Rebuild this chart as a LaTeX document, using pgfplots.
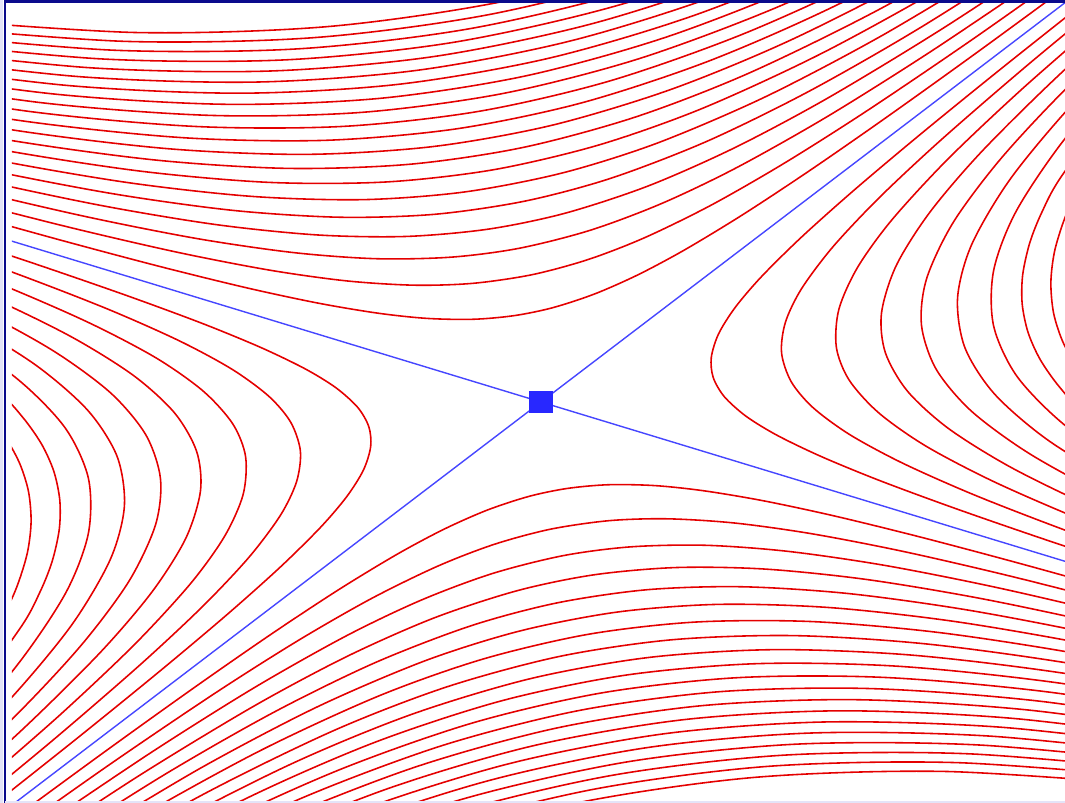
\documentclass[border=0pt]{standalone}
\usepackage{pgfplots}
\pgfplotsset{compat=1.18}
\definecolor{curvered}{RGB}{228,0,0}
\definecolor{sepblue}{RGB}{70,70,255}
\definecolor{sqblue}{RGB}{40,40,255}
\definecolor{framenavy}{RGB}{10,10,140}
\definecolor{lav}{RGB}{228,228,248}
\begin{document}
\begin{tikzpicture}
\path[use as bounding box] (-5.41,-4.01) rectangle (5.24,4.02);
\fill[lav] (-5.41,-4.01) rectangle (-5.375,4.02);
\begin{scope}
\clip (-5.29,-3.99) rectangle (5.24,4.0);
\begin{axis}[
  anchor=origin, at={(0,0)},
  disabledatascaling,
  x={(1cm,-0.304cm)}, y={(1cm,0.762cm)},
  xmin=-8.5, xmax=8.5, ymin=-6.5, ymax=6.5,
  hide axis, clip=false,
  every axis plot/.append style={line width=0.45pt},
]
% ---------- top region ----------
\addplot[curvered,smooth] coordinates {(-0.125,5.88) (-0.16,4.594) (-0.2,3.675) (-0.25,2.94) (-0.315,2.333) (-0.4,1.838) (-0.5,1.47) (-0.63,1.167) (-0.8,0.919) (-1,0.735) (-1.26,0.583) (-1.6,0.459) (-2,0.368) (-2.52,0.292) (-3.17,0.232) (-4,0.184) (-5.04,0.146) (-6.35,0.116) (-8,0.092)};
\addplot[curvered,smooth] coordinates {(-0.25,5.88) (-0.315,4.667) (-0.4,3.675) (-0.5,2.94) (-0.63,2.333) (-0.8,1.838) (-1,1.47) (-1.26,1.167) (-1.6,0.919) (-2,0.735) (-2.52,0.583) (-3.17,0.464) (-4,0.368) (-5.04,0.292) (-6.35,0.232) (-8,0.184)};
\addplot[curvered,smooth] coordinates {(-0.4,5.513) (-0.5,4.41) (-0.63,3.5) (-0.8,2.756) (-1,2.205) (-1.26,1.75) (-1.6,1.378) (-2,1.103) (-2.52,0.875) (-3.17,0.696) (-4,0.551) (-5.04,0.437) (-6.35,0.347) (-8,0.276)};
\addplot[curvered,smooth] coordinates {(-0.5,5.88) (-0.63,4.667) (-0.8,3.675) (-1,2.94) (-1.26,2.333) (-1.6,1.838) (-2,1.47) (-2.52,1.167) (-3.17,0.928) (-4,0.735) (-5.04,0.583) (-6.35,0.463) (-8,0.368)};
\addplot[curvered,smooth] coordinates {(-0.63,5.833) (-0.8,4.594) (-1,3.675) (-1.26,2.917) (-1.6,2.297) (-2,1.838) (-2.52,1.458) (-3.17,1.16) (-4,0.919) (-5.04,0.729) (-6.35,0.579) (-8,0.46)};
\addplot[curvered,smooth] coordinates {(-0.8,5.513) (-1,4.41) (-1.26,3.5) (-1.6,2.756) (-2,2.205) (-2.52,1.75) (-3.17,1.391) (-4,1.103) (-5.04,0.875) (-6.35,0.694) (-8,0.551)};
\addplot[curvered,smooth] coordinates {(-0.8,6.431) (-1,5.145) (-1.26,4.083) (-1.6,3.216) (-2,2.573) (-2.52,2.042) (-3.17,1.623) (-4,1.286) (-5.04,1.021) (-6.35,0.81) (-8,0.643)};
\addplot[curvered,smooth] coordinates {(-1,5.88) (-1.26,4.667) (-1.6,3.675) (-2,2.94) (-2.52,2.333) (-3.17,1.855) (-4,1.47) (-5.04,1.167) (-6.35,0.926) (-8,0.735)};
\addplot[curvered,smooth] coordinates {(-1,6.615) (-1.26,5.25) (-1.6,4.134) (-2,3.308) (-2.52,2.625) (-3.17,2.087) (-4,1.654) (-5.04,1.313) (-6.35,1.042) (-8,0.827)};
\addplot[curvered,smooth] coordinates {(-1.26,5.833) (-1.6,4.594) (-2,3.675) (-2.52,2.917) (-3.17,2.319) (-4,1.838) (-5.04,1.458) (-6.35,1.157) (-8,0.919)};
\addplot[curvered,smooth] coordinates {(-1.26,6.417) (-1.6,5.053) (-2,4.043) (-2.52,3.208) (-3.17,2.55) (-4,2.021) (-5.04,1.604) (-6.35,1.273) (-8,1.011)};
\addplot[curvered,smooth] coordinates {(-1.6,5.513) (-2,4.41) (-2.52,3.5) (-3.17,2.782) (-4,2.205) (-5.04,1.75) (-6.35,1.389) (-8,1.103)};
\addplot[curvered,smooth] coordinates {(-1.6,5.972) (-2,4.778) (-2.52,3.792) (-3.17,3.014) (-4,2.389) (-5.04,1.896) (-6.35,1.505) (-8,1.194)};
\addplot[curvered,smooth] coordinates {(-1.6,6.431) (-2,5.145) (-2.52,4.083) (-3.17,3.246) (-4,2.573) (-5.04,2.042) (-6.35,1.62) (-8,1.286)};
\addplot[curvered,smooth] coordinates {(-2,5.513) (-2.52,4.375) (-3.17,3.478) (-4,2.756) (-5.04,2.188) (-6.35,1.736) (-8,1.378)};
\addplot[curvered,smooth] coordinates {(-2,5.88) (-2.52,4.667) (-3.17,3.71) (-4,2.94) (-5.04,2.333) (-6.35,1.852) (-8,1.47)};
\addplot[curvered,smooth] coordinates {(-2,6.248) (-2.52,4.958) (-3.17,3.942) (-4,3.124) (-5.04,2.479) (-6.35,1.968) (-8,1.562)};
\addplot[curvered,smooth] coordinates {(-2,6.615) (-2.52,5.25) (-3.17,4.174) (-4,3.308) (-5.04,2.625) (-6.35,2.083) (-8,1.654)};
\addplot[curvered,smooth] coordinates {(-2.52,5.542) (-3.17,4.405) (-4,3.491) (-5.04,2.771) (-6.35,2.199) (-8,1.746)};
\addplot[curvered,smooth] coordinates {(-2.52,5.833) (-3.17,4.637) (-4,3.675) (-5.04,2.917) (-6.35,2.315) (-8,1.838)};
% ---------- bottom region ----------
\addplot[curvered,smooth] coordinates {(0.125,-5.88) (0.16,-4.594) (0.2,-3.675) (0.25,-2.94) (0.315,-2.333) (0.4,-1.838) (0.5,-1.47) (0.63,-1.167) (0.8,-0.919) (1,-0.735) (1.26,-0.583) (1.6,-0.459) (2,-0.368) (2.52,-0.292) (3.17,-0.232) (4,-0.184) (5.04,-0.146) (6.35,-0.116) (8,-0.092)};
\addplot[curvered,smooth] coordinates {(0.25,-5.88) (0.315,-4.667) (0.4,-3.675) (0.5,-2.94) (0.63,-2.333) (0.8,-1.838) (1,-1.47) (1.26,-1.167) (1.6,-0.919) (2,-0.735) (2.52,-0.583) (3.17,-0.464) (4,-0.368) (5.04,-0.292) (6.35,-0.232) (8,-0.184)};
\addplot[curvered,smooth] coordinates {(0.4,-5.513) (0.5,-4.41) (0.63,-3.5) (0.8,-2.756) (1,-2.205) (1.26,-1.75) (1.6,-1.378) (2,-1.103) (2.52,-0.875) (3.17,-0.696) (4,-0.551) (5.04,-0.437) (6.35,-0.347) (8,-0.276)};
\addplot[curvered,smooth] coordinates {(0.5,-5.88) (0.63,-4.667) (0.8,-3.675) (1,-2.94) (1.26,-2.333) (1.6,-1.838) (2,-1.47) (2.52,-1.167) (3.17,-0.928) (4,-0.735) (5.04,-0.583) (6.35,-0.463) (8,-0.368)};
\addplot[curvered,smooth] coordinates {(0.63,-5.833) (0.8,-4.594) (1,-3.675) (1.26,-2.917) (1.6,-2.297) (2,-1.838) (2.52,-1.458) (3.17,-1.16) (4,-0.919) (5.04,-0.729) (6.35,-0.579) (8,-0.46)};
\addplot[curvered,smooth] coordinates {(0.8,-5.513) (1,-4.41) (1.26,-3.5) (1.6,-2.756) (2,-2.205) (2.52,-1.75) (3.17,-1.391) (4,-1.103) (5.04,-0.875) (6.35,-0.694) (8,-0.551)};
\addplot[curvered,smooth] coordinates {(0.8,-6.431) (1,-5.145) (1.26,-4.083) (1.6,-3.216) (2,-2.573) (2.52,-2.042) (3.17,-1.623) (4,-1.286) (5.04,-1.021) (6.35,-0.81) (8,-0.643)};
\addplot[curvered,smooth] coordinates {(1,-5.88) (1.26,-4.667) (1.6,-3.675) (2,-2.94) (2.52,-2.333) (3.17,-1.855) (4,-1.47) (5.04,-1.167) (6.35,-0.926) (8,-0.735)};
\addplot[curvered,smooth] coordinates {(1,-6.615) (1.26,-5.25) (1.6,-4.134) (2,-3.308) (2.52,-2.625) (3.17,-2.087) (4,-1.654) (5.04,-1.313) (6.35,-1.042) (8,-0.827)};
\addplot[curvered,smooth] coordinates {(1.26,-5.833) (1.6,-4.594) (2,-3.675) (2.52,-2.917) (3.17,-2.319) (4,-1.838) (5.04,-1.458) (6.35,-1.157) (8,-0.919)};
\addplot[curvered,smooth] coordinates {(1.26,-6.417) (1.6,-5.053) (2,-4.043) (2.52,-3.208) (3.17,-2.55) (4,-2.021) (5.04,-1.604) (6.35,-1.273) (8,-1.011)};
\addplot[curvered,smooth] coordinates {(1.6,-5.513) (2,-4.41) (2.52,-3.5) (3.17,-2.782) (4,-2.205) (5.04,-1.75) (6.35,-1.389) (8,-1.103)};
\addplot[curvered,smooth] coordinates {(1.6,-5.972) (2,-4.778) (2.52,-3.792) (3.17,-3.014) (4,-2.389) (5.04,-1.896) (6.35,-1.505) (8,-1.194)};
\addplot[curvered,smooth] coordinates {(1.6,-6.431) (2,-5.145) (2.52,-4.083) (3.17,-3.246) (4,-2.573) (5.04,-2.042) (6.35,-1.62) (8,-1.286)};
\addplot[curvered,smooth] coordinates {(2,-5.513) (2.52,-4.375) (3.17,-3.478) (4,-2.756) (5.04,-2.188) (6.35,-1.736) (8,-1.378)};
\addplot[curvered,smooth] coordinates {(2,-5.88) (2.52,-4.667) (3.17,-3.71) (4,-2.94) (5.04,-2.333) (6.35,-1.852) (8,-1.47)};
\addplot[curvered,smooth] coordinates {(2,-6.248) (2.52,-4.958) (3.17,-3.942) (4,-3.124) (5.04,-2.479) (6.35,-1.968) (8,-1.562)};
\addplot[curvered,smooth] coordinates {(2,-6.615) (2.52,-5.25) (3.17,-4.174) (4,-3.308) (5.04,-2.625) (6.35,-2.083) (8,-1.654)};
\addplot[curvered,smooth] coordinates {(2.52,-5.542) (3.17,-4.405) (4,-3.491) (5.04,-2.771) (6.35,-2.199) (8,-1.746)};
\addplot[curvered,smooth] coordinates {(2.52,-5.833) (3.17,-4.637) (4,-3.675) (5.04,-2.917) (6.35,-2.315) (8,-1.838)};
% ---------- right region ----------
\addplot[curvered,smooth] coordinates {(0.125,5.776) (0.16,4.513) (0.2,3.61) (0.25,2.888) (0.315,2.292) (0.4,1.805) (0.5,1.444) (0.63,1.146) (0.8,0.903) (1,0.722) (1.26,0.573) (1.6,0.451) (2,0.361) (2.52,0.287) (3.17,0.228) (4,0.181) (5.04,0.143) (6.35,0.114)};
\addplot[curvered,smooth] coordinates {(0.25,5.776) (0.315,4.584) (0.4,3.61) (0.5,2.888) (0.63,2.292) (0.8,1.805) (1,1.444) (1.26,1.146) (1.6,0.903) (2,0.722) (2.52,0.573) (3.17,0.456) (4,0.361) (5.04,0.287) (6.35,0.227)};
\addplot[curvered,smooth] coordinates {(0.4,5.415) (0.5,4.332) (0.63,3.438) (0.8,2.708) (1,2.166) (1.26,1.719) (1.6,1.354) (2,1.083) (2.52,0.86) (3.17,0.683) (4,0.542) (5.04,0.43) (6.35,0.341)};
\addplot[curvered,smooth] coordinates {(0.5,5.776) (0.63,4.584) (0.8,3.61) (1,2.888) (1.26,2.292) (1.6,1.805) (2,1.444) (2.52,1.146) (3.17,0.911) (4,0.722) (5.04,0.573) (6.35,0.455)};
\addplot[curvered,smooth] coordinates {(0.63,5.73) (0.8,4.513) (1,3.61) (1.26,2.865) (1.6,2.256) (2,1.805) (2.52,1.433) (3.17,1.139) (4,0.903) (5.04,0.716) (6.35,0.569)};
\addplot[curvered,smooth] coordinates {(0.8,5.415) (1,4.332) (1.26,3.438) (1.6,2.708) (2,2.166) (2.52,1.719) (3.17,1.367) (4,1.083) (5.04,0.86) (6.35,0.682)};
\addplot[curvered,smooth] coordinates {(0.8,6.318) (1,5.054) (1.26,4.011) (1.6,3.159) (2,2.527) (2.52,2.006) (3.17,1.594) (4,1.264) (5.04,1.003) (6.35,0.796)};
\addplot[curvered,smooth] coordinates {(1,5.776) (1.26,4.584) (1.6,3.61) (1.8,3.209) (2,2.888) (2.25,2.567) (2.52,2.292) (2.83,2.041) (3.17,1.822) (3.56,1.622) (4,1.444) (5.04,1.146)};
\addplot[curvered,smooth] coordinates {(1.26,5.157) (1.6,4.061) (1.8,3.61) (2,3.249) (2.25,2.888) (2.52,2.579) (2.83,2.296) (3.17,2.05) (3.56,1.825) (4,1.625) (5.04,1.289)};
% ---------- left region ----------
\addplot[curvered,smooth] coordinates {(-0.125,-5.776) (-0.16,-4.513) (-0.2,-3.61) (-0.25,-2.888) (-0.315,-2.292) (-0.4,-1.805) (-0.5,-1.444) (-0.63,-1.146) (-0.8,-0.903) (-1,-0.722) (-1.26,-0.573) (-1.6,-0.451) (-2,-0.361) (-2.52,-0.287) (-3.17,-0.228) (-4,-0.181) (-5.04,-0.143) (-6.35,-0.114)};
\addplot[curvered,smooth] coordinates {(-0.25,-5.776) (-0.315,-4.584) (-0.4,-3.61) (-0.5,-2.888) (-0.63,-2.292) (-0.8,-1.805) (-1,-1.444) (-1.26,-1.146) (-1.6,-0.903) (-2,-0.722) (-2.52,-0.573) (-3.17,-0.456) (-4,-0.361) (-5.04,-0.287) (-6.35,-0.227)};
\addplot[curvered,smooth] coordinates {(-0.4,-5.415) (-0.5,-4.332) (-0.63,-3.438) (-0.8,-2.708) (-1,-2.166) (-1.26,-1.719) (-1.6,-1.354) (-2,-1.083) (-2.52,-0.86) (-3.17,-0.683) (-4,-0.542) (-5.04,-0.43) (-6.35,-0.341)};
\addplot[curvered,smooth] coordinates {(-0.5,-5.776) (-0.63,-4.584) (-0.8,-3.61) (-1,-2.888) (-1.26,-2.292) (-1.6,-1.805) (-2,-1.444) (-2.52,-1.146) (-3.17,-0.911) (-4,-0.722) (-5.04,-0.573) (-6.35,-0.455)};
\addplot[curvered,smooth] coordinates {(-0.63,-5.73) (-0.8,-4.513) (-1,-3.61) (-1.26,-2.865) (-1.6,-2.256) (-2,-1.805) (-2.52,-1.433) (-3.17,-1.139) (-4,-0.903) (-5.04,-0.716) (-6.35,-0.569)};
\addplot[curvered,smooth] coordinates {(-0.8,-5.415) (-1,-4.332) (-1.26,-3.438) (-1.6,-2.708) (-2,-2.166) (-2.52,-1.719) (-3.17,-1.367) (-4,-1.083) (-5.04,-0.86) (-6.35,-0.682)};
\addplot[curvered,smooth] coordinates {(-0.8,-6.318) (-1,-5.054) (-1.26,-4.011) (-1.6,-3.159) (-2,-2.527) (-2.52,-2.006) (-3.17,-1.594) (-4,-1.264) (-5.04,-1.003) (-6.35,-0.796)};
\addplot[curvered,smooth] coordinates {(-1,-5.776) (-1.26,-4.584) (-1.6,-3.61) (-1.8,-3.209) (-2,-2.888) (-2.25,-2.567) (-2.52,-2.292) (-2.83,-2.041) (-3.17,-1.822) (-3.56,-1.622) (-4,-1.444) (-5.04,-1.146)};
\addplot[curvered,smooth] coordinates {(-1.26,-5.157) (-1.6,-4.061) (-1.8,-3.61) (-2,-3.249) (-2.25,-2.888) (-2.52,-2.579) (-2.83,-2.296) (-3.17,-2.05) (-3.56,-1.825) (-4,-1.625) (-5.04,-1.289)};
% ---------- separatrices ----------
\addplot[sepblue, line width=0.4pt] coordinates {(-8.5,0) (8.5,0)};
\addplot[sepblue, line width=0.4pt] coordinates {(0,-6.5) (0,6.5)};
% ---------- saddle point ----------
\addplot[draw=none, mark=square*, mark size=3.1pt, mark options={draw=sqblue, fill=sqblue, line width=0.2pt, xscale=1.08, yscale=0.94}] coordinates {(0,0)};
\end{axis}
\end{scope}
\draw[framenavy, line width=0.6pt] (-5.36,-4.01) -- (-5.36,4.005) -- (5.24,4.005);
\draw[lav, line width=0.5pt] (-5.36,-4.0) -- (5.24,-4.0);
\end{tikzpicture}
\end{document}
